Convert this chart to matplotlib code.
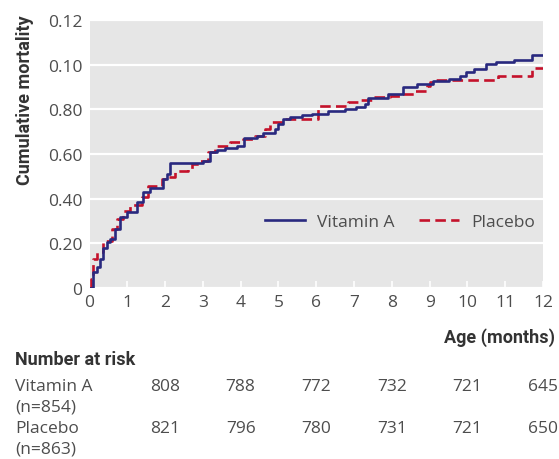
import numpy as np
import matplotlib
matplotlib.use('Agg')
import matplotlib.pyplot as plt
import matplotlib.transforms as mtransforms

# step times (months) and cumulative mortality
vit_x = [0, 0.1, 0.2, 0.28, 0.36, 0.46, 0.54, 0.67, 0.81, 0.99, 1.26, 1.42, 1.6,
         1.95, 2.05, 2.13, 3.0, 3.2, 3.38, 3.59, 3.9, 4.1, 4.43, 4.6, 4.91, 5.0,
         5.13, 5.31, 5.63, 5.9, 6.32, 6.77, 7.06, 7.3, 7.38, 7.9, 8.3, 8.67, 9.1,
         9.5, 9.81, 9.95, 10.17, 10.48, 10.75, 11.22, 11.72, 12.0]
vit_y = [0, 0.007, 0.0094, 0.013, 0.018, 0.0206, 0.022, 0.0264, 0.032, 0.034,
         0.0385, 0.043, 0.045, 0.049, 0.051, 0.0558, 0.057, 0.061, 0.062, 0.0627,
         0.0637, 0.067, 0.068, 0.0694, 0.071, 0.0734, 0.0757, 0.0766, 0.0775, 0.078,
         0.0793, 0.080, 0.081, 0.0824, 0.085, 0.087, 0.0902, 0.0914, 0.0928, 0.0936,
         0.0951, 0.0966, 0.098, 0.1003, 0.1013, 0.1022, 0.1043, 0.1043]

plc_x = [0, 0.05, 0.1, 0.2, 0.36, 0.6, 0.73, 0.89, 1.07, 1.38, 1.55, 1.92, 2.05,
         2.27, 2.6, 2.7, 2.93, 3.14, 3.32, 3.72, 4.07, 4.38, 4.65, 4.78, 5.13, 6.05,
         6.85, 7.17, 7.5, 7.95, 8.22, 8.62, 8.94, 9.02, 9.15, 10.8, 11.72, 12.0]
plc_y = [0, 0.004, 0.013, 0.016, 0.0212, 0.0264, 0.031, 0.0346, 0.037, 0.0407,
         0.0458, 0.0488, 0.0497, 0.0525, 0.0533, 0.0555, 0.057, 0.061, 0.0637,
         0.0653, 0.0667, 0.068, 0.0712, 0.0745, 0.0757, 0.0817, 0.0834, 0.0843,
         0.0854, 0.086, 0.0869, 0.0884, 0.0906, 0.0924, 0.0933, 0.0951, 0.0984,
         0.0984]

y_ticks = [0, 0.02, 0.04, 0.06, 0.08, 0.10, 0.12]
y_labels = ['0', '0.20', '0.40', '0.60', '0.80', '0.10', '0.12']
x_ticks = list(range(0, 13))

risk_groups = ['Vitamin A', 'Placebo']
risk_n = ['(n=854)', '(n=863)']
risk_months = [2, 4, 6, 8, 10, 12]
risk_vit = [808, 788, 772, 732, 721, 645]
risk_plc = [821, 796, 780, 731, 721, 650]

navy = '#29297f'
red = '#c4122b'
txt = '#4d4d4d'
dark = '#333333'

plt.rcParams['font.family'] = ['Open Sans', 'DejaVu Sans']
bold = dict(family=['Roboto', 'DejaVu Sans'], fontweight='bold', color=dark, fontsize=13)

fig = plt.figure(figsize=(5.59, 4.60), dpi=100)
ax = fig.add_axes([89.5 / 559, 1 - 289 / 460, (543 - 89.5) / 559, 268 / 460])
ax.set_facecolor('#e6e6e6')
for s in ax.spines.values():
    s.set_visible(False)

ax.set_xlim(0, 12)
ax.set_ylim(0, 0.12)
ax.set_yticks(y_ticks)
ax.set_yticklabels(y_labels)
ax.set_xticks(x_ticks)
ax.grid(axis='y', color='white', lw=1.6)
ax.set_axisbelow(True)
ax.tick_params(axis='y', length=0, labelsize=12.5, labelcolor=txt, pad=5)
ax.tick_params(axis='x', direction='in', length=5, width=1.2, color='white',
               labelsize=12.5, labelcolor=txt, pad=4)

ax.step(vit_x, vit_y, where='post', color=navy, lw=1.9, label='Vitamin A', zorder=3)
ax.step(plc_x, plc_y, where='post', color=red, lw=1.9, dashes=(4, 2),
        label='Placebo', zorder=2)

ax.legend(loc='center right', bbox_to_anchor=((535 - 89.5) / 453.5, 66 / 268), ncol=2,
          frameon=False, fontsize=12.5, handlelength=2.3, columnspacing=1.4,
          handletextpad=0.7, borderpad=0, borderaxespad=0, labelcolor=txt)

fig.text(25 / 559, 1 - 15 / 460, 'Cumulative mortality', rotation=90, ha='center',
         va='top', **bold)
fig.text(555 / 559, 1 - 338 / 460, 'Age (months)', ha='right', va='center', **bold)
fig.text(15 / 559, 1 - 360 / 460, 'Number at risk', ha='left', va='center', **bold)

# risk table columns sit under the month ticks
tr = mtransforms.blended_transform_factory(ax.transData, fig.transFigure)
row_y = [387, 429]
for name, n, vals, yy in zip(risk_groups, risk_n, [risk_vit, risk_plc], row_y):
    fig.text(15 / 559, 1 - yy / 460, name, ha='left', va='center', fontsize=12.5, color=txt)
    fig.text(15 / 559, 1 - (yy + 21) / 460, n, ha='left', va='center', fontsize=12.5,
             color=txt)
    for m, v in zip(risk_months, vals):
        ax.text(m, 1 - yy / 460, str(v), transform=tr, ha='center', va='center',
                fontsize=12.5, color=txt, clip_on=False)

fig.savefig('out.png', dpi=100, facecolor='white')
